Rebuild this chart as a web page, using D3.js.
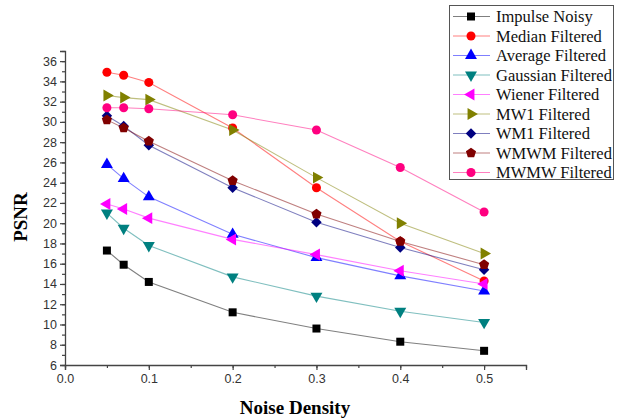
<!DOCTYPE html>
<html>
<head>
<meta charset="utf-8">
<script src="https://cdn.jsdelivr.net/npm/d3@7"></script>
<style>
  body { margin: 0; background: #fff; }
  svg { display: block; }
</style>
</head>
<body>
<svg id="chart" width="618" height="420"></svg>
<script>
// noise densities on the x axis
const density = [0.05, 0.07, 0.1, 0.2, 0.3, 0.4, 0.5];

const seriesNames = ["Impulse Noisy", "Median Filtered", "Average Filtered", "Gaussian Filtered",
    "Wiener Filtered", "MW1 Filtered", "WM1 Filtered", "WMWM Filtered", "MWMW Filtered"];

const impulse  = [17.3, 15.9, 14.2, 11.2, 9.6, 8.3, 7.4];
const median   = [34.9, 34.6, 33.9, 29.4, 23.5, 18.2, 14.3];
const average  = [25.8, 24.4, 22.6, 18.9, 16.6, 14.8, 13.3];
const gaussian = [21.0, 19.5, 17.8, 14.7, 12.8, 11.3, 10.2];
const wiener   = [21.9, 21.4, 20.5, 18.4, 16.9, 15.3, 14.0];
const mw1      = [32.6, 32.4, 32.2, 29.2, 24.5, 20.0, 17.0];
const wm1      = [30.6, 29.6, 27.7, 23.5, 20.1, 17.6, 15.4];
const wmwm     = [30.2, 29.4, 28.1, 24.2, 20.9, 18.2, 15.9];
const mwmw     = [31.4, 31.4, 31.3, 30.7, 29.2, 25.5, 21.1];

const yTickLabels = d3.range(6, 37, 2);
const xTickLabels = [0.0, 0.1, 0.2, 0.3, 0.4, 0.5];

const allValues = [impulse, median, average, gaussian, wiener, mw1, wm1, wmwm, mwmw];
const colors = ["#000000", "#ff0000", "#0000ff", "#008080", "#ff00ff", "#808000", "#000080", "#800000", "#ff0080"];

// a few extra marker shapes that d3 doesn't ship
function polygonSymbol(n, rot) {
    return {
        draw(ctx, size) {
            let r = Math.sqrt(size / (n * 0.5 * Math.sin(2 * Math.PI / n)));
            for (let i = 0; i < n; i++) {
                let a = rot + i * 2 * Math.PI / n;
                let px = r * Math.cos(a), py = r * Math.sin(a);
                if (i === 0) ctx.moveTo(px, py); else ctx.lineTo(px, py);
            }
            ctx.closePath();
        }
    };
}
const triUp = polygonSymbol(3, -Math.PI / 2);
const triDown = polygonSymbol(3, Math.PI / 2);
const triLeft = polygonSymbol(3, Math.PI);
const triRight = polygonSymbol(3, 0);
const diamond = polygonSymbol(4, 0);
const pentagon = polygonSymbol(5, -Math.PI / 2);
const shapes = [d3.symbolSquare, d3.symbolCircle, triUp, triDown, triLeft, triRight, diamond, pentagon, d3.symbolCircle];
const sizes = [64, 64, 62, 62, 62, 62, 55, 68, 64];

let svg = d3.select("#chart");
let x = d3.scaleLinear().domain([0, 0.55]).range([65, 526]);
let y = d3.scaleLinear().domain([6, 37]).range([365, 51]);

// axes: major ticks labelled, minor ticks between
let axisFont = "'Liberation Sans', Arial, sans-serif";

let xMinor = svg.append("g").attr("transform", "translate(0,365)")
    .call(d3.axisBottom(x).tickValues(d3.range(0, 0.551, 0.05)).tickSize(3).tickFormat(""));
xMinor.select(".domain").remove();
let xAxis = svg.append("g").attr("transform", "translate(0,365)")
    .call(d3.axisBottom(x).tickValues(xTickLabels).tickSize(5).tickPadding(4).tickFormat(d3.format(".1f")));

let yMinor = svg.append("g").attr("transform", "translate(65,0)")
    .call(d3.axisLeft(y).tickValues(d3.range(6, 37.01, 1)).tickSize(3).tickFormat(""));
yMinor.select(".domain").remove();
let yAxis = svg.append("g").attr("transform", "translate(65,0)")
    .call(d3.axisLeft(y).tickValues(yTickLabels).tickSize(5).tickPadding(3));

[xAxis, yAxis].forEach(a => {
    a.selectAll("text").attr("font-family", axisFont).attr("font-size", 12.5).attr("fill", "#333");
    a.select(".domain").attr("stroke", "#444").attr("stroke-width", 1.3);
});
svg.selectAll(".tick line").attr("stroke", "#444").attr("stroke-width", 1.2);

// axis titles
svg.append("text")
    .attr("x", 295).attr("y", 414)
    .attr("text-anchor", "middle")
    .attr("font-family", "'Liberation Serif', 'Times New Roman', serif")
    .attr("font-weight", "bold").attr("font-size", 19)
    .text("Noise Density");

svg.append("text")
    .attr("transform", "translate(27,217) rotate(-90)")
    .attr("text-anchor", "middle")
    .attr("font-family", "'Liberation Serif', 'Times New Roman', serif")
    .attr("font-weight", "bold").attr("font-size", 19)
    .text("PSNR");

// lines + markers
let line = d3.line().x((d, i) => x(density[i])).y(d => y(d));

allValues.forEach((vals, k) => {
    svg.append("path")
        .datum(vals)
        .attr("fill", "none")
        .attr("stroke", colors[k])
        .attr("stroke-opacity", 0.5)
        .attr("stroke-width", 1.1)
        .attr("d", line);
});

allValues.forEach((vals, k) => {
    svg.append("g").selectAll("path")
        .data(vals)
        .enter().append("path")
        .attr("transform", (d, i) => "translate(" + x(density[i]) + "," + y(d) + ")")
        .attr("d", d3.symbol().type(shapes[k]).size(sizes[k]))
        .attr("fill", colors[k]);
});

// legend
let legend = svg.append("g");
legend.append("rect")
    .attr("x", 449.5).attr("y", 5.5)
    .attr("width", 164).attr("height", 174)
    .attr("fill", "#fff").attr("stroke", "#555").attr("stroke-width", 1);

let rows = legend.selectAll(".row")
    .data(seriesNames)
    .enter().append("g")
    .attr("class", "row")
    .attr("transform", (d, i) => "translate(0," + (16.5 + i * 19.5) + ")");

rows.append("line")
    .attr("x1", 453).attr("x2", 490)
    .attr("stroke", (d, i) => colors[i])
    .attr("stroke-opacity", 0.5)
    .attr("stroke-width", 1.1);

rows.append("path")
    .attr("transform", "translate(471,0)")
    .attr("d", (d, i) => d3.symbol().type(shapes[i]).size(sizes[i])())
    .attr("fill", (d, i) => colors[i]);

rows.append("text")
    .attr("x", 496)
    .attr("dy", "0.34em")
    .attr("font-family", "'Liberation Serif', 'Times New Roman', serif")
    .attr("font-size", 16.5)
    .attr("fill", "#111")
    .text(d => d);
</script>
</body>
</html>
